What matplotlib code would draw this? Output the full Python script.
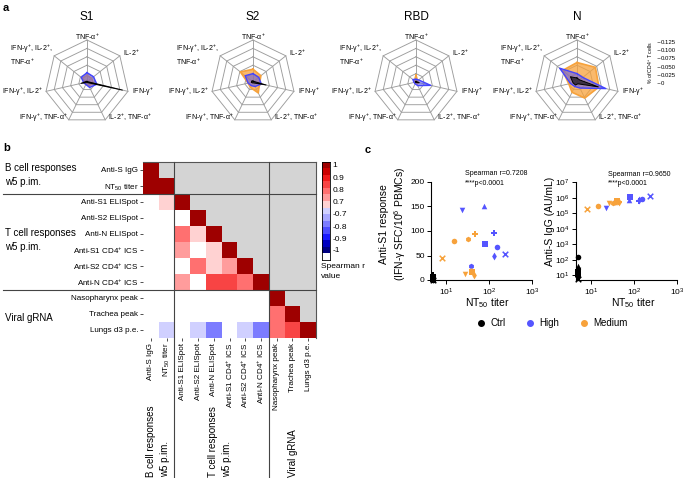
import numpy as np
import matplotlib
matplotlib.use('Agg')
import matplotlib.pyplot as plt
from matplotlib.colors import ListedColormap, BoundaryNorm
from matplotlib.lines import Line2D
import matplotlib.transforms as mtransforms

plt.rcParams['font.family'] = ['Liberation Sans', 'DejaVu Sans']
plt.rcParams['mathtext.fontset'] = 'custom'
plt.rcParams['mathtext.rm'] = 'Liberation Sans'
plt.rcParams['mathtext.it'] = 'Liberation Sans:italic'
plt.rcParams['mathtext.bf'] = 'Liberation Sans:bold'
plt.rcParams['mathtext.default'] = 'regular'

# ---------------- data ----------------
antigens = ['S1', 'S2', 'RBD', 'N']
radar_labels = ['TNF-α$^{+}$', 'IL-2$^{+}$', 'IFN-γ$^{+}$', 'IL-2$^{+}$, TNF-α$^{+}$',
                'IFN-γ$^{+}$, TNF-α$^{+}$', 'IFN-γ$^{+}$, IL-2$^{+}$',
                'IFN-γ$^{+}$, IL-2$^{+}$,\nTNF-α$^{+}$']
radar_ticks = [0, 0.025, 0.050, 0.075, 0.100, 0.125]
radar_medium = [[0.020, 0.018, 0.020, 0.012, 0.008, 0.008, 0.018],
                [0.038, 0.030, 0.020, 0.036, 0.018, 0.015, 0.048],
                [0.020, 0.006, 0.008, 0.006, 0.004, 0.004, 0.006],
                [0.058, 0.070, 0.067, 0.053, 0.034, 0.025, 0.055]]
radar_high = [[0.028, 0.025, 0.030, 0.018, 0.008, 0.010, 0.022],
              [0.025, 0.022, 0.025, 0.015, 0.012, 0.015, 0.030],
              [0.008, 0.010, 0.045, 0.012, 0.006, 0.006, 0.012],
              [0.025, 0.022, 0.088, 0.020, 0.015, 0.020, 0.066]]
radar_ctrl = [[0.002, 0.002, 0.108, 0.002, 0.002, 0.018, 0.003],
              [0.003, 0.003, 0.040, 0.003, 0.003, 0.005, 0.005],
              [0.002, 0.002, 0.010, 0.002, 0.002, 0.002, 0.002],
              [0.012, 0.010, 0.065, 0.006, 0.010, 0.012, 0.025]]

heat_labels = ['Anti-S IgG', 'NT$_{50}$ titer', 'Anti-S1 ELISpot', 'Anti-S2 ELISpot',
               'Anti-N ELISpot', 'Anti-S1 CD4$^{+}$ ICS', 'Anti-S2 CD4$^{+}$ ICS',
               'Anti-N CD4$^{+}$ ICS', 'Nasopharynx peak', 'Trachea peak', 'Lungs d3 p.e.']
heat_rows = [
    [1.00],
    [1.00, 1.00],
    [0.00, 0.70, 1.00],
    [0.00, 0.00, 0.00, 1.00],
    [0.00, 0.00, 0.79, 0.71, 1.00],
    [0.00, 0.00, 0.76, 0.00, 0.71, 1.00],
    [0.00, 0.00, 0.00, 0.79, 0.71, 0.76, 1.00],
    [0.00, 0.00, 0.76, 0.00, 0.86, 0.86, 0.80, 1.00],
    [0.00, 0.00, 0.00, 0.00, 0.00, 0.00, 0.00, 0.00, 1.00],
    [0.00, 0.00, 0.00, 0.00, 0.00, 0.00, 0.00, 0.00, 0.79, 1.00],
    [0.00, -0.71, 0.00, -0.72, -0.80, 0.00, -0.72, -0.79, 0.80, 0.87, 1.00],
]
cbar_values = [1.0, 0.95, 0.9, 0.85, 0.8, 0.75, 0.7, -0.7, -0.75, -0.8, -0.85, -0.9, -0.95, -1.0, 0.0]
cbar_ticklabels = ['1', '0.9', '0.8', '0.7', '-0.7', '-0.8', '-0.9', '-1']

animal_markers = ['o', 's', '^', 'v', 'h', 'P', 'd', 'x']
ctrl_nt50 = [5, 5, 5, 5, 5, 5, 5, 5]
ctrl_ifng = [0, 2, 9, 4, 1, 11, 6, 0]
ctrl_igg = [150, 16, 40, 20, 11, 9, 7, 6]
high_nt50 = [155, 82, 78, 23, 37, 128, 128, 240]
high_ifng = [68, 73, 150, 142, 28, 95, 48, 53]
high_igg = [8.5e5, 1.2e6, 7e5, 2.1e5, 5e5, 6.5e5, 7e5, 1.25e6]
medium_nt50 = [15, 40, 37, 27, 33, 46, 44, 8]
medium_ifng = [80, 16, 20, 12, 83, 93, 10, 45]
medium_igg = [2.9e5, 6e5, 5.5e5, 4.4e5, 4.5e5, 5.5e5, 5e5, 1.9e5]
groups = ['Ctrl', 'High', 'Medium']

C_ORANGE = '#F7A23B'
C_BLUE = '#5555FF'
C_BLACK = '#000000'

# ---------------- figure ----------------
W, H = 685, 478
fig = plt.figure(figsize=(W / 100, H / 100), dpi=100)


def box(x0, y0, x1, y1):
    return [x0 / W, 1 - y1 / H, (x1 - x0) / W, (y1 - y0) / H]


# ---------------- panel a: radar ----------------
R_PX = 42.0
RMAX = 0.125
HALF = 75
u = RMAX / R_PX  # data units per pixel
n = len(radar_labels)
theta = np.deg2rad(90 - np.arange(n) * 360.0 / n)
label_off = [(0, 2, 'center', 'bottom'), (3, -3, 'left', 'center'), (4, 1, 'left', 'center'),
             (3, -2, 'left', 'center'), (-1, -2, 'right', 'center'), (-3, 1, 'right', 'center'),
             (-1, -0.5, 'right', 'center')]
centers = [87, 253, 416, 577]


def poly(vals):
    v = np.asarray(vals)
    x = v * np.cos(theta)
    y = v * np.sin(theta)
    return np.append(x, x[0]), np.append(y, y[0])


for k, ant in enumerate(antigens):
    cx, cy = centers[k], 82
    ax = fig.add_axes(box(cx - HALF, cy - HALF, cx + HALF, cy + HALF))
    lim = HALF * u
    ax.set_xlim(-lim, lim)
    ax.set_ylim(-lim, lim)
    ax.set_aspect('equal')
    ax.axis('off')
    for r in radar_ticks[1:]:
        px, py = poly([r] * n)
        ax.plot(px, py, color='#9c9c9c', lw=0.65, zorder=1)
    for t in theta:
        ax.plot([0, RMAX * np.cos(t)], [0, RMAX * np.sin(t)], color='#9c9c9c', lw=0.65, zorder=1)
    px, py = poly(radar_medium[k])
    ax.fill(px, py, facecolor=C_ORANGE, alpha=0.75, lw=0, zorder=2)
    ax.plot(px, py, color=C_ORANGE, lw=1.2, zorder=2)
    px, py = poly(radar_high[k])
    ax.fill(px, py, facecolor='#5555EE', alpha=0.55, lw=0, zorder=3)
    ax.plot(px, py, color='#4444FF', lw=1.0, zorder=3)
    px, py = poly(radar_ctrl[k])
    ax.fill(px, py, facecolor=C_BLACK, alpha=0.6, lw=0, zorder=4)
    ax.plot(px, py, color=C_BLACK, lw=0.7, zorder=4)
    for i, lab in enumerate(radar_labels):
        dx, dy, ha, va = label_off[i]
        x = RMAX * np.cos(theta[i]) + dx * u
        y = RMAX * np.sin(theta[i]) - dy * u
        ax.text(x, y, lab, fontsize=5, ha=ha, va=va, multialignment='left', clip_on=False)
    ax.text(0, (cy - 17) * u, ant, fontsize=8.5, ha='center', va='center')

sax = fig.add_axes(box(656, 42, 657, 83))
sax.set_ylim(0, RMAX)
for s in sax.spines.values():
    s.set_visible(False)
sax.set_xticks([])
sax.yaxis.tick_right()
sax.set_yticks(radar_ticks)
sax.set_yticklabels(['0', '0.025', '0.050', '0.075', '0.100', '0.125'])
sax.tick_params(axis='y', labelsize=4.3, length=2, width=0.5, pad=1, color='#555555')
sax.set_ylabel('% of CD4$^{+}$ T cells', fontsize=3.8, labelpad=1)

# ---------------- panel b: heatmap ----------------
nh = len(heat_labels)
mat = np.full((nh, nh), np.nan)
for i, row in enumerate(heat_rows):
    mat[i, :len(row)] = row

colors_asc = ['#000080', '#0000C0', '#1A1AFF', '#4D4DFF', '#7C7CFF', '#A8A8FF', '#D0D0FF',
              '#FFFFFF',
              '#FFD2D2', '#FF9C9C', '#FF7070', '#F84444', '#F01A1A', '#CC0000', '#9E0000']
bounds = [-1.025, -0.975, -0.925, -0.875, -0.825, -0.775, -0.725, -0.69,
          0.69, 0.725, 0.775, 0.825, 0.875, 0.925, 0.975, 1.025]
cmap = ListedColormap(colors_asc)
norm = BoundaryNorm(bounds, cmap.N)

hx0, hy0, hx1, hy1 = 143, 162, 316, 338
hax = fig.add_axes(box(hx0, hy0, hx1, hy1))
hax.set_facecolor('#d4d4d4')
hax.pcolormesh(np.ma.masked_invalid(mat), cmap=cmap, norm=norm)
hax.set_xlim(0, nh)
hax.set_ylim(nh, 0)
hax.set_xticks(np.arange(nh) + 0.5)
hax.set_yticks(np.arange(nh) + 0.5)
hax.set_xticklabels(heat_labels, rotation=90)
hax.set_yticklabels(heat_labels)
hax.tick_params(labelsize=5.8, length=2.5, width=0.6, pad=1, color='#333333')
for side in ['left', 'bottom']:
    hax.spines[side].set_visible(False)
for side in ['top', 'right']:
    hax.spines[side].set_color('#555555')
    hax.spines[side].set_linewidth(0.8)

tr_v = mtransforms.blended_transform_factory(hax.transData, fig.transFigure)
tr_h = mtransforms.blended_transform_factory(fig.transFigure, hax.transData)
for xb in [2, 8]:
    fig.add_artist(Line2D([xb, xb], [0, 1 - hy0 / H], transform=tr_v, color='#444444', lw=0.8))
for yb in [2, 8]:
    fig.add_artist(Line2D([3 / W, hx1 / W], [yb, yb], transform=tr_h, color='#444444', lw=0.8))

fig.text(5 / W, 1 - 175 / H, 'B cell responses\nw5 p.im.', fontsize=7, ha='left', va='center',
         linespacing=1.5)
fig.text(5 / W, 1 - 240 / H, 'T cell responses\nw5 p.im.', fontsize=7, ha='left', va='center',
         linespacing=1.5)
fig.text(5 / W, 1 - 318 / H, 'Viral gRNA', fontsize=7, ha='left', va='center')

fig.text(158 / W, 1 - 477 / H, 'B cell responses\nw5 p.im.', fontsize=7, rotation=90,
         ha='center', va='bottom', multialignment='left', linespacing=1.4)
fig.text(220 / W, 1 - 477 / H, 'T cell responses\nw5 p.im.', fontsize=7, rotation=90,
         ha='center', va='bottom', multialignment='left', linespacing=1.4)
fig.text(293 / W, 1 - 477 / H, 'Viral gRNA', fontsize=7, rotation=90, ha='center', va='bottom')

cax = fig.add_axes(box(322, 161.7, 330, 260))
cax.pcolormesh(np.array(cbar_values).reshape(-1, 1), cmap=cmap, norm=norm)
cax.set_ylim(len(cbar_values), 0)
cax.set_xticks([])
cax.yaxis.tick_right()
cax.set_yticks([0.5, 2.35, 4.2, 6.05, 7.85, 9.95, 11.65, 13.35])
cax.set_yticklabels(cbar_ticklabels)
cax.tick_params(axis='y', labelsize=6, length=0, pad=2)
for s in cax.spines.values():
    s.set_linewidth(0.6)
fig.text(321 / W, 1 - 263 / H, 'Spearman r\nvalue', fontsize=6, ha='left', va='top', linespacing=1.6)

# ---------------- panel c: scatter ----------------
group_data = [(ctrl_nt50, ctrl_ifng, ctrl_igg, C_BLACK),
              (high_nt50, high_ifng, high_igg, C_BLUE),
              (medium_nt50, medium_ifng, medium_igg, C_ORANGE)]

ax1 = fig.add_axes(box(431, 182, 532, 280))
ax2 = fig.add_axes(box(575.7, 182.3, 677, 280))
for ax, yi in [(ax1, 1), (ax2, 2)]:
    for g in group_data:
        xs, ys, c = g[0], g[yi], g[3]
        for j in range(len(xs)):
            m = animal_markers[j]
            kw = dict(linewidths=1.1) if m == 'x' else dict(linewidths=0)
            ax.scatter(xs[j], ys[j], marker=m, s=16, color=c, clip_on=False, zorder=3, **kw)
    ax.set_xscale('log')
    ax.set_xlim(4.45, 1000)
    ax.set_xticks([10, 100, 1000])
    ax.xaxis.set_minor_locator(matplotlib.ticker.NullLocator())
    for side in ['top', 'right']:
        ax.spines[side].set_visible(False)
    for side in ['left', 'bottom']:
        ax.spines[side].set_linewidth(0.8)
    ax.tick_params(labelsize=6, length=3, width=0.7, pad=1.5)
    ax.set_xlabel('NT$_{50}$ titer', fontsize=7.5)

ax1.set_ylim(0, 200)
ax1.set_yticks([0, 50, 100, 150, 200])
ax1.set_ylabel('Anti-S1 response\n(IFN-γ SFC/10$^{6}$ PBMCs)', fontsize=7.5, linespacing=1.25)
ax1.yaxis.set_label_coords(-0.23, 0.57)
ax1.xaxis.set_label_coords(0.56, -0.17)
ax1.text(0.34, 1.12, 'Spearman r=0.7208\n****p<0.0001', transform=ax1.transAxes, fontsize=5,
         ha='left', va='top', linespacing=1.5)

ax2.set_yscale('log')
ax2.set_ylim(4.8, 1e7)
ax2.set_yticks([1e1, 1e2, 1e3, 1e4, 1e5, 1e6, 1e7])
ax2.yaxis.set_minor_locator(matplotlib.ticker.NullLocator())
ax2.set_ylabel('Anti-S IgG (AU/mL)', fontsize=7.5)
ax2.yaxis.set_label_coords(-0.20, 0.6)
ax2.xaxis.set_label_coords(0.57, -0.17)
ax2.text(0.32, 1.12, 'Spearman r=0.9650\n****p<0.0001', transform=ax2.transAxes, fontsize=5,
         ha='left', va='top', linespacing=1.5)

handles = [Line2D([], [], marker='o', ls='', color=g[3], markersize=4) for g in group_data]
fig.legend(handles, groups, loc='center', bbox_to_anchor=(552 / W, 1 - 323 / H), ncol=3,
           frameon=False, fontsize=7, handletextpad=0.5, columnspacing=2.0, handlelength=1.0)

# panel letters
fig.text(3 / W, 1 - 8 / H, 'a', fontsize=8, fontweight='bold', ha='left', va='center')
fig.text(3 / W, 1 - 148 / H, 'b', fontsize=8, fontweight='bold', ha='left', va='center')
fig.text(365 / W, 1 - 150 / H, 'c', fontsize=8, fontweight='bold', ha='left', va='center')

fig.savefig('out.png', dpi=100)
